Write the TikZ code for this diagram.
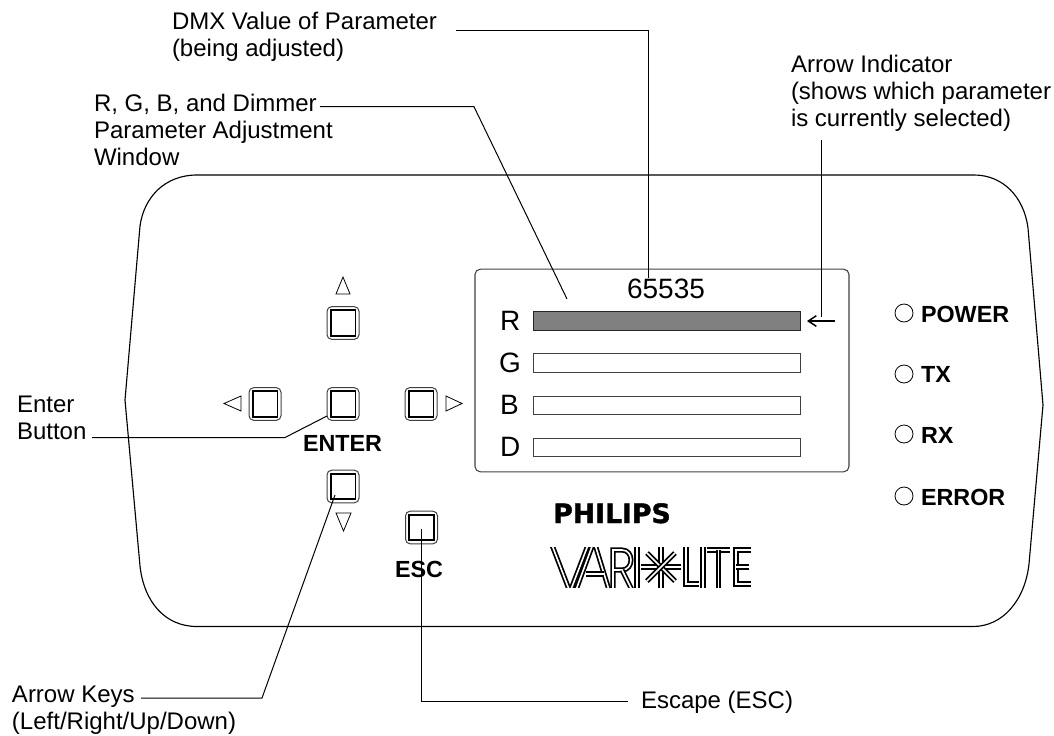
\documentclass[tikz,border=0pt]{standalone}
\usepackage{fontspec}
\usetikzlibrary{arrows.meta}
\setmainfont{Liberation Sans}
\newfontfamily\philipsfont{DejaVu Sans}[BoldFeatures={FakeBold=1.5}]
\tikzset{
  lbl/.style={inner sep=0pt,outer sep=0pt,align=left,anchor=north west,font=\fontsize{18}{20}\selectfont},
  lblb/.style={inner sep=0pt,outer sep=0pt,anchor=base west,font=\fontsize{17.5}{20}\selectfont\bfseries},
  chan/.style={inner sep=0pt,outer sep=0pt,anchor=base west,font=\fontsize{21}{24}\selectfont},
  leader/.style={draw=black,line width=0.75pt},
  panel/.style={draw=black,line width=0.85pt},
  btnout/.style={draw=black!75,line width=0.75pt,rounded corners=3.5pt,minimum width=24pt,minimum height=24.5pt,inner sep=0pt},
  btnin/.style={draw=black,line width=1.35pt,minimum width=18.6pt,minimum height=19pt,inner sep=0pt},
  tri/.style={draw=black,line width=0.6pt,fill=white},
  bar/.style={draw=black!75,line width=0.9pt,fill=white,minimum width=200pt,minimum height=14pt,inner sep=0pt},
  led/.style={circle,draw=black,line width=0.6pt,minimum size=13.5pt,inner sep=0pt},
  logo/.style={draw=black,line width=1.3pt,double=white,double distance=1.2pt,line cap=butt,line join=miter}
}
\begin{document}
\begin{tikzpicture}[x=0.75pt,y=-0.75pt]
\useasboundingbox (0,0) rectangle (1054,736);
% panel
\draw[panel] (125,400) -- (140,226) .. controls (144,197) and (165,175) .. (197,175) -- (974,175)
  .. controls (1003,175) and (1024,197) .. (1028,228) -- (1043,405) -- (1029,564)
  .. controls (1025,600) and (1003,626.5) .. (973,626.5) -- (197,626.5)
  .. controls (165,626.5) and (144,602) .. (140,566) -- cycle;
% display
\node[draw=black!75,line width=0.8pt,rounded corners=4pt,minimum width=280.5pt,minimum height=152pt,inner sep=0pt] (disp) at (662,370.5) {};
\node[inner sep=0pt,anchor=base,font=\fontsize{21}{24}\selectfont] (val) at (666,298) {65535};
\node[bar,fill=black!50,draw=black!85] (barR) at (667,321) {};
\node[bar] (barG) at (667,363) {};
\node[bar] (barB) at (667,405.5) {};
\node[bar] (barD) at (667,447.5) {};
\node[chan] (R) at (500,330) {R};
\node[chan] (G) at (499,372) {G};
\node[chan] (B) at (500,414) {B};
\node[chan] (D) at (500,456) {D};
% buttons
\foreach \n/\x/\y in {up/343/323,ent/343/404,lf/265/404,rt/421/404,dn/343/486.5,esc/421.5/527.5}{
  \node[btnout] (\n) at (\x,\y) {};
  \node[btnin] (\n i) at (\x,\y) {};
}
% triangles
\draw[tri] (343,277) -- (350,294) -- (336,294) -- cycle;
\draw[tri] (224,403.5) -- (241,396) -- (241,411) -- cycle;
\draw[tri] (462,403.5) -- (446,396) -- (446,411) -- cycle;
\draw[tri] (343.5,531) -- (351,513) -- (336,513) -- cycle;
% leds
\node[led] (l1) at (904,313) {};
\node[led] (l2) at (904,374) {};
\node[led] (l3) at (904,434) {};
\node[led] (l4) at (904,496) {};
\node[lblb] (tP) at (921,322) {POWER};
\node[lblb] (tT) at (921,382) {TX};
\node[lblb] (tR) at (921,443) {RX};
\node[lblb] (tE) at (921,505) {ERROR};
\node[lblb] (tEnt) at (303,451) {ENTER};
\node[lblb] (tEsc) at (395,577) {ESC};
% logos
\node[inner sep=0pt,anchor=base west,font=\fontsize{20}{22}\selectfont\philipsfont\bfseries] (ph) at (553,523) {PHILIPS};
\begin{scope}
\clip (545,547) rectangle (756,587);
\draw[logo] (552,545) -- (570,592) -- (588,545);
\draw[logo] (576,590) -- (594,541) -- (609,590);
\draw[logo] (586,574) -- (604,574);
\draw[logo] (613,590) -- (613,550) -- (622,550) .. controls (634,550) and (634,570) .. (622,570) -- (613,570);
\draw[logo] (622,570) -- (632,590);
\draw[logo] (637,545) -- (637,590);
\draw[logo] (661,545) -- (661,590);
\draw[logo] (641,567) -- (681,567);
\draw[logo] (647,553) -- (675,581);
\draw[logo] (647,581) -- (675,553);
\draw[logo] (686,545) -- (686,584) -- (699,584);
\draw[logo] (703,545) -- (703,590);
\draw[logo] (707,550) -- (730,550);
\draw[logo] (718.5,550) -- (718.5,590);
\draw[logo] (751,550) -- (736,550) -- (736,584) -- (751,584);
\draw[logo] (736,567) -- (749,567);
\end{scope}
% labels
\node[lbl] (a) at (172,12.5) {DMX Value of Parameter\\(being adjusted)};
\node[lbl] (b) at (94,94.5) {R, G, B, and Dimmer\\Parameter Adjustment\\Window};
\node[lbl] (c) at (791,55.5) {Arrow Indicator\\(shows which parameter\\is currently selected)};
\node[lbl] (d) at (17,396) {Enter\\Button};
\node[lbl] (e) at (12,686) {Arrow Keys\\(Left/Right/Up/Down)};
\node[lbl] (f) at (641,691) {Escape (ESC)};
% connectors
\coordinate (a1) at (456,30); \coordinate (a2) at (648.5,30); \coordinate (a3) at (648.5,278);
\draw[leader] (a1) -- (a2) -- (a3);
\coordinate (b1) at (320,106.7); \coordinate (b2) at (474,106.7); \coordinate (b3) at (567,299);
\draw[leader] (b1) -- (b2) -- (b3);
\coordinate (c1) at (821.5,140); \coordinate (c2) at (821.5,317);
\draw[leader] (c1) -- (c2);
\coordinate (c3) at (835,321); \coordinate (c4) at (807,321);
\draw[draw=black,line width=1.1pt,-{Straight Barb[length=6pt,width=8pt]}] (c3) -- (c4);
\coordinate (d1) at (92,437.5); \coordinate (d2) at (285,437.5); \coordinate (d3) at (327,416);
\draw[leader] (d1) -- (d2) -- (d3);
\coordinate (e1) at (141,698); \coordinate (e2) at (262,698); \coordinate (e3) at (335,495);
\draw[leader] (e1) -- (e2) -- (e3);
\coordinate (f1) at (421.5,529); \coordinate (f2) at (421.5,701); \coordinate (f3) at (628,701);
\draw[leader] (f1) -- (f2) -- (f3);
\end{tikzpicture}
\end{document}
